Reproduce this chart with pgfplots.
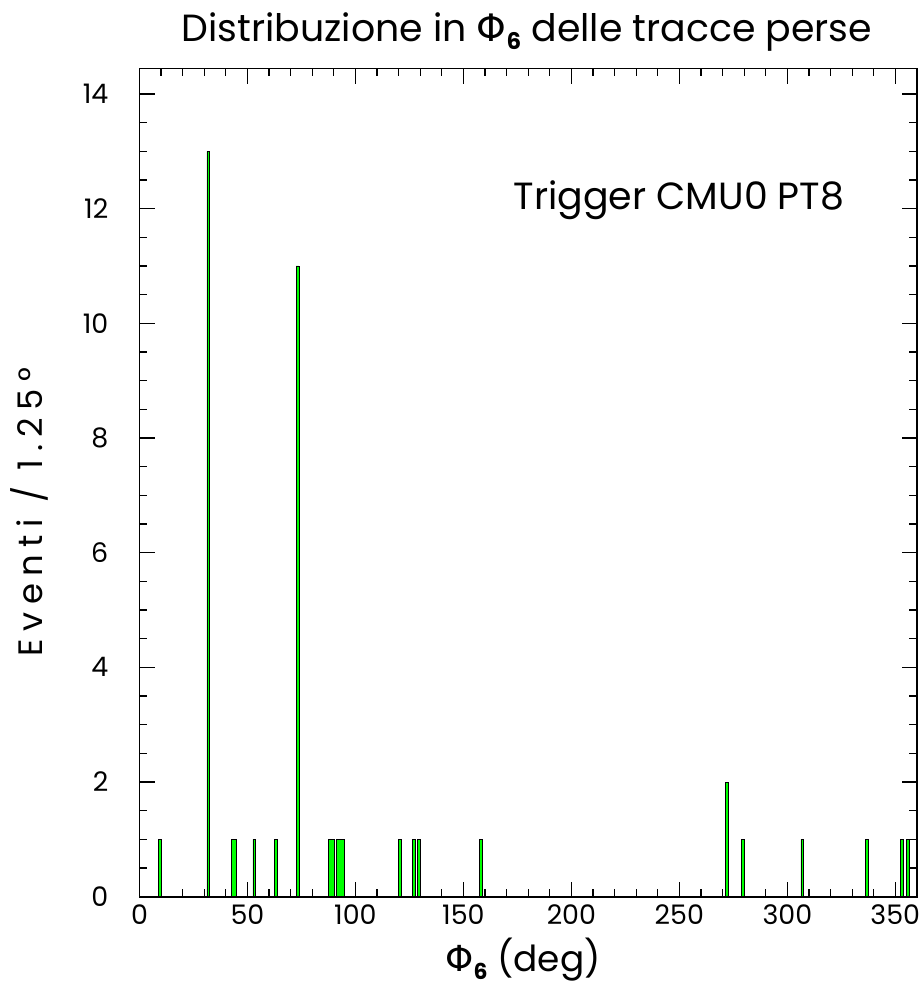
\documentclass[border=0pt]{standalone}
\usepackage{fontspec}
\setmainfont{Poppins}
\newfontfamily\dv{DejaVu Sans}
\usepackage{pgfplots}
\pgfplotsset{compat=1.18}
\newcommand{\phisub}[1]{{\dv Φ}\raisebox{-0.22em}{\fontsize{#1}{#1}\selectfont\bfseries 6}}
\begin{document}
\begin{tikzpicture}
\path (-139.5bp,-89.3bp) rectangle (780.5bp,896.7bp);
\begin{axis}[
  at={(0bp,0bp)}, anchor=south west, scale only axis,
  width=777.4bp, height=828bp,
  xmin=0, xmax=360, ymin=0, ymax=14.44,
  xtick={0,50,...,350}, minor x tick num=4,
  ytick={0,2,...,14}, minor y tick num=3,
  tick align=inside,
  major tick length=15bp, minor tick length=7.5bp,
  tick style={black, line width=1.2bp},
  axis line style={line width=1.6bp},
  ticklabel style={font=\fontsize{27}{27}\selectfont, inner sep=0pt},
  yticklabel style={anchor=east, xshift=-31bp},
  xticklabel style={anchor=north, yshift=-8bp},
  /pgf/number format/assume math mode=true,
]
\addplot[const plot, fill={rgb,255:red,0;green,255;blue,0}, draw=black, line width=0.5bp] coordinates {
(0,0) (8.75,1) (10,0) (31.25,13) (32.5,0) (42.5,1) (43.75,1) (45,0)
(52.5,1) (53.75,0) (62.5,1) (63.75,0) (72.5,11) (73.75,0)
(87.5,1) (88.75,1) (90,0) (91.25,1) (92.5,1) (93.75,1) (95,0)
(120,1) (121.25,0) (126.25,1) (127.5,0) (128.75,1) (130,0)
(157.5,1) (158.75,0) (271.25,2) (272.5,0) (278.75,1) (280,0)
(306.25,1) (307.5,0) (336.25,1) (337.5,0) (352.5,1) (353.75,0)
(355,1) (356.25,0) (360,0)
} \closedcycle;
\end{axis}
\node[font=\fontsize{38}{38}\selectfont] at (387.5bp,864.7bp) {Distribuzione in \phisub{23} delle tracce perse};
\node[font=\fontsize{38}{38}\selectfont] at (539.5bp,696.7bp) {Trigger CMU0 PT8};
\node[font=\fontsize{34}{34}\selectfont\addfontfeature{LetterSpace=22}, rotate=90] at (-110.5bp,384.7bp) {Eventi / 1.25°};
\node[font=\fontsize{36}{36}\selectfont] at (383.5bp,-62.8bp) {\phisub{22} (deg)};
\end{tikzpicture}
\end{document}
